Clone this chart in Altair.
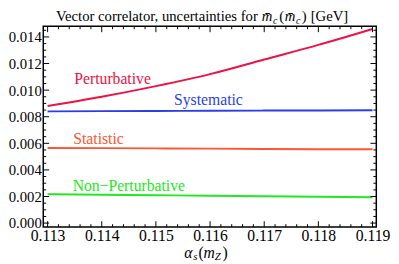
import altair as alt
import pandas as pd
import numpy as np

# ---- data ----
alpha_s = [0.113, 0.114, 0.115, 0.116, 0.117, 0.118, 0.119]
perturbative = [0.00880, 0.00950, 0.01030, 0.01120, 0.01230, 0.01340, 0.01460]
systematic = [0.00840, 0.00842, 0.00843, 0.00845, 0.00846, 0.00847, 0.00848]
statistic = [0.00565, 0.00564, 0.00562, 0.00560, 0.00558, 0.00556, 0.00556]
non_perturbative = [0.00218, 0.00214, 0.00210, 0.00206, 0.00202, 0.00198, 0.00195]

series_names = ["Perturbative", "Systematic", "Statistic", "Non\u2212Perturbative"]
series_colors = ["#EE1144", "#2A3FE8", "#FF5533", "#22E822"]

label_x = [0.11420, 0.11597, 0.11394, 0.11450]
label_y = [0.01081, 0.00922, 0.00634, 0.00277]

x_major = [0.113, 0.114, 0.115, 0.116, 0.117, 0.118, 0.119]
y_major = [0.000, 0.002, 0.004, 0.006, 0.008, 0.010, 0.012, 0.014]

W, H = 340, 205
FONT = "Liberation Serif"

rows = []
for name, vals in zip(series_names, [perturbative, systematic, statistic, non_perturbative]):
    for a, v in zip(alpha_s, vals):
        rows.append({"a": a, "v": v, "s": name})
df = pd.DataFrame(rows)

xs = alt.Scale(domain=[0.11292, 0.11907], nice=False, zero=False)
ys = alt.Scale(domain=[-0.0003, 0.0148], nice=False, zero=False)
cs = alt.Scale(domain=series_names, range=series_colors)

xaxis = alt.Axis(values=x_major, format=".3f", title=None, ticks=False, grid=False,
                 domain=False, labelFont=FONT, labelFontSize=16, labelColor="black",
                 labelPadding=1, labelFlush=False, labelOverlap=False, labelBound=False)
yaxis = alt.Axis(values=y_major, format=".3f", title=None, ticks=False, grid=False,
                 domain=False, labelFont=FONT, labelFontSize=15, labelColor="black",
                 labelPadding=2, labelFlush=False, labelOverlap=False, labelBound=False)

lines = alt.Chart(df).mark_line(strokeWidth=2, interpolate="monotone").encode(
    x=alt.X("a:Q", scale=xs, axis=xaxis),
    y=alt.Y("v:Q", scale=ys, axis=yaxis),
    color=alt.Color("s:N", scale=cs, legend=None),
)

labels_df = pd.DataFrame({"s": series_names, "x": label_x, "y": label_y})
labels = alt.Chart(labels_df).mark_text(font=FONT, fontSize=16, baseline="middle", align="center").encode(
    x=alt.X("x:Q", scale=xs, axis=xaxis),
    y=alt.Y("y:Q", scale=ys, axis=yaxis),
    text="s:N",
    color=alt.Color("s:N", scale=cs, legend=None),
)

# ---- inward frame ticks ----
x_minor = [t for t in np.round(np.arange(0.1130, 0.11901, 0.0002), 5) if round(t, 4) not in x_major]
y_minor = [t for t in np.round(np.arange(0.0, 0.01451, 0.0005), 5) if round(t, 4) not in y_major]

def xticks(vals, length):
    d = pd.DataFrame({"t": vals})
    base = alt.Chart(d).mark_rule(color="black", strokeWidth=1)
    bot = base.encode(x=alt.X("t:Q", scale=xs, axis=xaxis), y=alt.value(H), y2=alt.value(H - length))
    top = base.encode(x=alt.X("t:Q", scale=xs, axis=xaxis), y=alt.value(0), y2=alt.value(length))
    return [bot, top]

def yticks(vals, length):
    d = pd.DataFrame({"t": vals})
    base = alt.Chart(d).mark_rule(color="black", strokeWidth=1)
    left = base.encode(y=alt.Y("t:Q", scale=ys, axis=yaxis), x=alt.value(0), x2=alt.value(length))
    right = base.encode(y=alt.Y("t:Q", scale=ys, axis=yaxis), x=alt.value(W - length), x2=alt.value(W))
    return [left, right]

tick_layers = xticks(x_major, 6) + xticks(x_minor, 3) + yticks(y_major, 6) + yticks(y_minor, 3)

# ---- composed title and x-axis title ----
one = alt.Data(values=[{}])

def txt(s, x, y, size=15, italic=False, align="left"):
    return alt.Chart(one).mark_text(
        text=s, font=FONT, fontSize=size, fontStyle="italic" if italic else "normal",
        align=align, baseline="alphabetic", color="black"
    ).encode(x=alt.value(x), y=alt.value(y))

TY = -5
title_parts = [
    txt("Vector correlator, uncertainties for", 219, TY, align="right"),
    txt("m\u0304", 223, TY, italic=True),
    txt("c", 234.5, TY + 3, size=10, italic=True),
    txt("(", 241, TY),
    txt("m\u0304", 246.5, TY, italic=True),
    txt("c", 258, TY + 3, size=10, italic=True),
    txt(")", 264, TY),
    txt("[GeV]", 273, TY),
]

XY = 237
xtitle_parts = [
    txt("\u03b1", 144, XY, size=16, italic=True),
    txt("s", 153, XY + 2, size=11, italic=True),
    txt("(", 158.5, XY, size=16),
    txt("m", 163.5, XY, size=16, italic=True),
    txt("Z", 175, XY + 2, size=11, italic=True),
    txt(")", 183, XY, size=16),
]

chart = alt.layer(lines, labels, *tick_layers, *title_parts, *xtitle_parts).properties(
    width=W, height=H,
    autosize=alt.AutoSizeParams(type="none"),
    padding={"left": 36, "top": 16, "right": 15, "bottom": 35},
).configure_view(stroke="black", strokeWidth=1.5)

chart.save("out.html", embed_options={"renderer": "svg", "actions": False})
